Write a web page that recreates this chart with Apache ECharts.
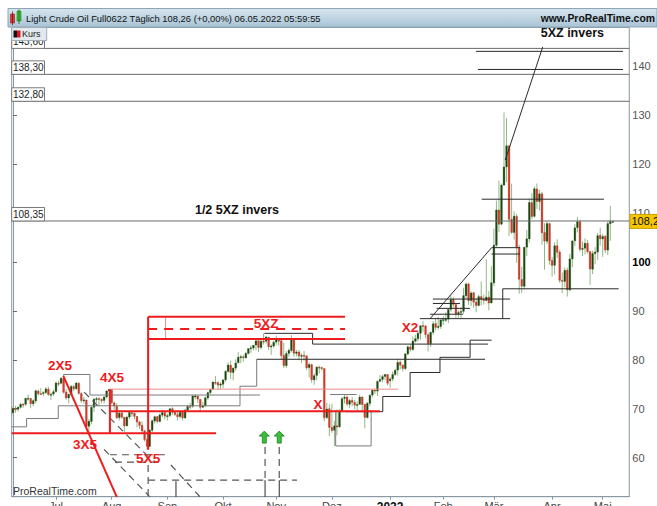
<!DOCTYPE html>
<html>
<head>
<meta charset="utf-8">
<script src="https://cdn.jsdelivr.net/npm/echarts@6.0.0/dist/echarts.min.js"></script>
<style>
html,body{margin:0;padding:0;background:#ffffff;overflow:hidden;}
#chart{width:657px;height:506px;}
</style>
</head>
<body>
<div id="chart"></div>
<script>
// ================= DATA =================
const startDate = '2021-06-08';
const slotCount = 244;                 // trading-day slots on the x axis (incl. empty ones at the right)
const closedDays = ['2022-04-15'];
const monthNames = {1:'2022',2:'Feb',3:'Mär',4:'Apr',5:'Mai',6:'Jun',7:'Jul',8:'Aug',9:'Sep',10:'Okt',11:'Nov',12:'Dez'};
const priceTicks = [60,70,80,90,100,110,120,130,140];
const boldTick = 100;
const yMin = 52.03, yMax = 147.87;

// daily candles [open, high, low, close]
const jun21 = [[69.2,70.5,68.6,70.05],[70.0,70.6,69.2,69.96],[69.9,70.5,69.4,70.29],[70.3,71.2,70.0,70.91],
[70.9,71.2,70.2,70.88],[70.9,72.2,70.6,72.12],[72.1,72.9,71.6,72.15],[72.1,72.2,70.1,71.04],[71.0,71.9,70.5,71.64],
[71.6,73.9,71.1,73.66],[73.6,73.9,72.7,73.06],[73.1,74.2,72.9,73.08],[73.1,73.6,72.6,73.30],[73.3,74.4,73.0,74.05],
[74.0,74.5,72.6,72.91],[72.9,73.3,71.8,72.98],[73.0,73.9,72.6,73.47]];
const jul21 = [[73.5,75.6,73.3,75.23],[75.2,75.7,74.6,75.16],[75.2,76.5,75.0,76.2],[76.2,77.0,73.1,73.37],[73.4,74.0,71.8,72.20],
[72.2,73.1,71.1,72.94],[72.9,74.8,72.6,74.56],[74.5,74.9,73.6,74.10],[74.1,75.5,73.8,75.25],[75.2,75.5,72.9,73.13],
[73.1,73.4,71.2,71.65],[71.6,72.4,71.0,71.81],[71.8,71.8,65.9,66.42],[66.4,67.9,65.0,67.42],[67.4,70.5,66.8,70.30],
[70.3,72.2,69.3,71.91],[71.9,72.4,71.2,72.07],[72.1,72.3,70.5,71.91],[71.9,72.1,71.1,71.65],[71.7,72.5,71.1,72.39],
[72.4,73.8,72.1,73.62],[73.6,74.0,72.9,73.95]];
const aug21 = [[73.9,74.0,70.9,71.26],[71.2,71.5,69.8,70.56],[70.5,71.1,67.9,68.15],[68.2,69.4,67.6,69.09],[69.1,69.5,67.9,68.28],
[68.3,68.3,65.2,66.48],[66.5,68.6,66.4,68.29],[68.3,69.6,67.9,69.25],[69.2,69.5,68.4,69.09],[69.1,69.2,67.8,68.44],
[68.4,68.5,66.2,67.29],[67.3,67.5,65.9,66.59],[66.6,67.4,65.0,65.46],[65.5,65.6,63.3,63.69],[63.7,64.0,61.7,62.32],
[62.3,65.8,62.2,65.64],[65.6,67.8,65.2,67.54],[67.5,68.6,67.0,68.36],[68.4,68.5,67.0,67.42],[67.4,69.0,67.2,68.74],
[68.7,69.8,68.3,69.21],[69.2,69.4,67.8,68.50]];
const sep21 = [[68.5,69.0,67.6,68.59],[68.6,70.1,68.3,69.99],[70.0,70.3,68.8,69.29],[69.3,69.5,68.5,68.8],[68.8,69.5,67.6,68.35],
[68.4,69.6,68.0,69.30],[69.3,69.6,67.6,68.14],[68.1,70.0,68.0,69.72],[69.7,70.8,69.6,70.45],[70.5,71.2,69.9,70.46],
[70.5,72.8,70.2,72.61],[72.6,73.0,71.9,72.61],[72.6,72.7,71.2,71.97],[71.9,72.0,69.6,70.29],[70.3,71.4,70.2,70.56],
[70.6,72.5,70.4,72.23],[72.2,73.5,71.8,73.30],[73.3,74.0,72.9,73.98],[74.0,75.6,73.9,75.45],[75.4,76.7,74.9,75.29],
[75.3,75.6,73.9,74.83],[74.8,75.4,73.9,75.03]];
const oct21 = [[75.0,76.1,74.2,75.88],[75.9,77.9,75.4,77.62],[77.6,79.5,77.4,78.93],[78.9,79.8,76.1,77.43],[77.4,78.4,75.8,78.30],
[78.3,80.1,77.8,79.35],[79.4,81.6,79.3,80.52],[80.5,81.0,79.3,80.64],[80.6,81.0,79.6,80.44],[80.4,81.6,80.2,81.31],
[81.3,82.3,81.1,82.28],[82.3,83.0,81.4,82.44],[82.4,83.0,81.9,82.96],[83.0,83.9,81.9,83.87],[83.9,84.0,81.6,82.50],
[82.5,84.2,82.1,83.76],[83.8,85.4,83.1,83.76],[83.8,84.9,83.3,84.65],[84.6,84.7,82.0,82.66],[82.7,83.2,81.0,82.81],
[82.8,83.9,82.4,83.57]];
const nov21 = [[83.6,84.9,83.0,84.05],[84.0,84.5,82.9,83.91],[83.9,84.0,80.0,80.86],[80.9,83.5,78.3,78.81],[78.8,81.8,78.3,81.27],
[81.3,82.3,80.6,81.93],[81.9,85.0,81.5,84.15],[84.2,84.3,80.6,81.34],[81.3,82.0,80.7,81.59],[81.6,82.0,79.9,80.79],
[80.8,81.3,79.3,80.88],[80.9,81.8,79.8,80.76],[80.8,80.9,77.9,78.36],[78.4,79.5,76.4,79.01],[79.0,79.2,75.3,75.94],
[75.9,77.2,74.9,76.75],[76.8,78.7,75.8,78.50],[78.5,78.8,77.2,78.39],[78.4,78.6,77.8,78.2],[78.2,78.3,67.4,68.15],
[68.2,71.2,67.9,69.95],[70.0,70.9,64.4,66.18]];
const dec21 = [[66.2,71.0,65.1,65.57],[65.6,67.5,62.4,66.50],[66.5,69.9,64.6,66.26],[66.3,69.9,66.1,69.49],[69.5,72.4,69.2,72.05],
[72.1,72.9,71.1,72.36],[72.4,72.7,70.5,70.94],[70.9,72.0,70.1,71.67],[71.7,72.4,70.5,71.29],[71.3,71.8,69.9,70.73],
[70.7,71.5,69.3,70.87],[70.9,72.9,70.8,72.38],[72.4,72.5,69.4,70.86],[70.9,70.9,66.0,68.23],[68.2,71.4,68.0,71.12],
[71.1,72.9,70.5,72.76],[72.8,73.9,72.3,73.79],[73.8,73.9,73.0,73.6],[73.6,75.8,72.6,75.57],[75.6,76.9,75.4,75.98],
[76.0,77.0,75.4,76.56],[76.6,77.1,75.8,76.99],[77.0,77.0,74.8,75.21]];
const jan22 = [[75.7,76.5,74.3,76.08],[76.1,77.6,75.6,76.99],[77.0,78.1,76.7,77.85],[77.9,80.2,76.8,79.46],[79.5,79.9,78.0,78.90],
[78.9,79.0,77.6,78.23],[78.2,81.3,77.9,81.22],[81.2,82.9,80.9,82.64],[82.6,83.1,81.7,82.12],[82.1,84.8,81.8,83.82],
[83.8,85.1,83.5,84.3],[84.3,86.0,83.7,85.43],[85.4,87.0,84.1,86.96],[87.0,87.9,85.7,86.90],[86.9,87.1,84.4,85.14],
[85.1,85.5,81.7,83.31],[83.3,85.7,82.6,85.60],[85.6,87.9,85.1,87.35],[87.4,88.5,86.0,86.61],[86.6,88.8,86.2,86.82],
[86.8,88.2,86.3,88.15]];
const feb22 = [[88.2,88.9,87.1,88.20],[88.2,89.7,87.7,88.26],[88.3,90.4,87.5,90.27],[90.3,93.2,89.8,92.31],[92.3,92.7,90.7,91.32],
[91.3,91.4,88.5,89.36],[89.4,90.1,88.6,89.66],[89.7,90.7,88.4,89.88],[89.9,94.7,89.4,93.10],[93.1,95.8,92.4,95.46],
[95.5,95.7,91.2,92.07],[92.1,94.0,91.0,93.66],[93.7,93.8,90.6,91.76],[91.8,92.6,89.7,91.07],[91.1,93.3,90.9,92.9],
[92.9,96.0,91.1,92.35],[92.4,93.3,91.3,92.10],[92.1,100.5,92.0,92.81],[92.8,94.0,90.1,91.59],[91.6,99.1,91.5,95.72]];
const mar22 = [[95.7,106.8,95.1,103.41],[103.4,112.5,103.0,110.60],[110.6,116.6,106.1,107.67],[107.7,116.0,107.5,115.68],
[115.7,130.5,115.5,119.40],[119.4,129.4,116.3,123.70],[123.7,123.7,105.3,108.70],[108.7,116.0,105.7,106.02],[106.0,110.3,104.5,109.33],
[109.3,109.8,99.8,103.01],[103.0,103.5,93.5,96.44],[96.4,99.0,93.6,95.04],[95.0,103.1,94.4,102.98],[103.0,106.5,101.2,104.70],
[104.7,112.9,103.9,112.12],[112.1,114.0,108.7,109.27],[109.3,115.4,109.0,114.93],[114.9,116.0,110.8,112.34],[112.3,114.7,110.5,113.90],
[113.9,114.3,103.5,105.96],[106.0,107.9,98.4,104.24],[104.2,108.3,103.6,107.82],[107.8,108.0,99.4,100.28]];
const apr22 = [[100.3,101.0,97.0,99.27],[99.3,104.0,97.4,103.28],[103.3,104.6,100.8,101.96],[102.0,102.5,95.7,96.23],[96.2,97.8,93.6,96.03],
[96.0,98.9,94.8,98.26],[98.3,98.8,92.9,94.29],[94.3,101.6,94.0,100.60],[100.6,104.5,98.9,104.25],[104.3,107.7,103.3,106.95],
[107.0,109.2,106.0,108.21],[108.2,108.6,102.1,102.56],[102.6,104.2,101.2,102.75],[102.8,104.8,101.5,103.79],[103.8,104.5,101.7,102.07],
[102.1,102.1,95.3,98.54],[98.5,102.3,97.5,101.70],[101.7,103.0,99.5,102.02],[102.0,105.9,100.4,105.36],[105.4,107.0,103.3,104.69]];
const may22 = [[104.7,105.7,101.0,105.17],[105.2,105.5,101.8,102.41],[102.4,108.3,101.4,107.81],[107.8,111.4,104.3,108.26],[108.26,108.4,108.1,108.26]];

const lastPrice = 108.26, lastPriceText = '108,2';
const levelPrices = [143.60, 138.30, 132.80, 108.35];
const levelTexts = ['143,60', '138,30', '132,80', '108,35'];

// drawn trend objects, points = [day slot, price]
const darkLines = [
  [[182.9,143.0],[241.0,143.0]],
  [[183.7,139.3],[241.0,139.3]],
  [[194.5,120.8],[209.3,143.9]],
  [[185.2,112.8],[233.5,112.8]],
  [[193.5,88.4],[193.5,94.5],[239.3,94.5]],
  [[164.8,88.4],[189.1,102.9],[200.3,102.9]],
  [[189.1,101.6],[200.3,101.6]],
  [[165.9,92.4],[196.4,92.4]],
  [[165.9,91.5],[176.6,91.5]],
  [[167.4,90.5],[180.6,90.5]],
  [[164.8,89.3],[177.8,89.3]],
  [[160.8,88.4],[196.4,88.4]],
  [[131.2,69.4],[146.1,69.4],[146.1,72.5],[156.9,72.5],[156.9,77.4],[168.7,77.4],[168.7,80.5],[180.6,80.5],[180.6,84.0],[189.1,84.0]],
  [[99.3,85.4],[118.4,85.4],[118.4,83.2],[187.7,83.2]],
  [[96.3,80.1],[186.5,80.1]],
  [[64.4,55.2],[64.4,52.0]],
  [[99.6,55.4],[99.6,52.0]],
  [[105.2,55.4],[105.2,52.0]]
];
const grayLines = [
  [[-0.5,66.3],[5.4,66.3],[5.4,68.0],[17.9,68.0],[17.9,70.6],[89.7,70.6],[89.7,74.6],[96.3,74.6],[96.3,80.1]],
  [[19.9,77.0],[30.4,77.0],[30.4,72.8],[97.6,72.8]],
  [[127.5,69.7],[127.5,62.4],[141.5,62.4],[141.5,69.7]],
  [[125.3,72.9],[135.8,72.9]]
];
const redLines = [
  [[19.9,76.7],[41.0,52.0]],
  [[-0.5,65.0],[80.2,65.0]],
  [[38.3,65.0],[38.3,74.0]],
  [[38.3,69.5],[145.0,69.5]],
  [[53.4,61.6],[53.4,88.8]],
  [[53.4,88.8],[131.2,88.8]],
  [[53.4,84.25],[131.2,84.25]]
];
const redDashedLines = [[[53.4,86.3],[131.2,86.3]]];
const pinkLines = [[[38.3,74.0],[152.2,74.0]],[[60.3,88.8],[60.3,84.25]]];
const grayDashedLines = [
  [[38.3,60.6],[62.0,60.6]],
  [[40.3,59.1],[59.3,59.1]],
  [[53.4,58.5],[53.4,52.0]],
  [[53.4,55.4],[112.2,55.4]],
  [[99.6,62.2],[99.6,55.4]],
  [[105.2,62.2],[105.2,55.4]],
  [[28.1,73.4],[54.1,59.9]],
  [[36.0,61.7],[54.1,52.0]],
  [[62.4,58.5],[73.9,52.0]]
];
const redTexts = [
  {t:'2X5', at:[18.6,78.9]}, {t:'3X5', at:[28.5,62.6]}, {t:'4X5', at:[39.1,76.3]},
  {t:'5X5', at:[53.4,59.9]}, {t:'5XZ', at:[100.0,87.5]}, {t:'X', at:[120.5,70.8]}, {t:'X2', at:[156.9,86.5]}
];
const blackTexts = [{t:'1/2 5XZ invers', at:[88.5,110.6]}, {t:'5XZ invers', at:[221.0,146.7]}];
const upArrows = [[99.3,64.2],[105.2,64.2]];

const titleText = 'Light Crude Oil Full0622 Täglich 108,26 (+0,00%) 06.05.2022 05:59:55';
const siteText = 'www.ProRealTime.com';
const footText = 'ProRealTime.com';
const legendText = 'Kurs';

// ================= BUILD =================
const categories = [];
(function(){
  const d = new Date(startDate + 'T00:00:00Z');
  while (categories.length < slotCount) {
    const wd = d.getUTCDay();
    const s = d.toISOString().slice(0,10);
    if (wd !== 0 && wd !== 6 && closedDays.indexOf(s) < 0) categories.push(s);
    d.setUTCDate(d.getUTCDate()+1);
  }
})();
const ohlc = [].concat(jun21, jul21, aug21, sep21, oct21, nov21, dec21, jan22, feb22, mar22, apr22, may22);
const candleData = ohlc.map((r,i)=>[categories[i], r[0], r[1], r[2], r[3]]);

function isMonthStart(idx){
  if (idx === 0) return false;
  return categories[idx].slice(0,7) !== categories[idx-1].slice(0,7);
}

const FONT = '"Liberation Sans", Arial, sans-serif';
const AX = '#8a98a4';

function linesSeries(list, color, width, type){
  return {
    type:'lines', coordinateSystem:'cartesian2d', xAxisIndex:1, yAxisIndex:0,
    polyline:true, silent:true, animation:false, z:5,
    lineStyle:{color:color, width:width, type:type||'solid', opacity:1},
    data: list.map(p=>({coords:p}))
  };
}
const levelSeg = levelPrices.map(p=>[[-0.5,p],[slotCount-0.5,p]]);

const chart = echarts.init(document.getElementById('chart'), null, {renderer:'svg'});
const option = {
  animation:false,
  backgroundColor:'#ffffff',
  grid:{left:11.7, top:27.5, width:617.6, height:469.2, show:true, borderColor:AX, borderWidth:1, containLabel:false, outerBoundsMode:'none'},
  xAxis:[{
    type:'category', data:categories, boundaryGap:true,
    axisLine:{show:true, lineStyle:{color:AX}},
    axisTick:{show:true, alignWithLabel:true, interval:(i)=>isMonthStart(i), length:3, lineStyle:{color:AX}},
    axisLabel:{show:true, interval:(i)=>isMonthStart(i), margin:4, fontSize:11, fontFamily:FONT, color:'#444',
      formatter:(v)=>{const m=parseInt(v.slice(5,7),10); return m===1?'{b|'+monthNames[m]+'}':monthNames[m];},
      rich:{b:{fontWeight:'bold', color:'#111', fontSize:12, fontFamily:FONT}}},
    splitLine:{show:false}
  },{
    type:'value', min:-0.5, max:slotCount-0.5, show:false, splitLine:{show:false}
  }],
  yAxis:[{
    type:'value', position:'right', min:yMin, max:yMax, scale:true,
    axisLine:{show:true, lineStyle:{color:AX}},
    axisTick:{show:true, length:4, customValues:priceTicks, lineStyle:{color:'#666'}},
    axisLabel:{show:true, customValues:priceTicks, margin:3, fontSize:11, fontFamily:FONT, color:'#555',
      formatter:(v)=> v===boldTick ? '{b|'+v+'}' : String(v),
      rich:{b:{fontWeight:'bold', color:'#000', fontSize:11, fontFamily:FONT}}},
    splitLine:{show:false}
  }],
  series:[
    {
      type:'custom', xAxisIndex:0, yAxisIndex:0, z:3, silent:true,
      dimensions:['date','open','high','low','close'],
      encode:{x:0, y:[1,2,3,4]},
      data:candleData,
      renderItem:function(params, api){
        const i = api.value(0), o = api.value(1), h = api.value(2), l = api.value(3), c = api.value(4);
        const pH = api.coord([i,h]), pL = api.coord([i,l]), pO = api.coord([i,o]), pC = api.coord([i,c]);
        const w = api.size([1,0])[0]*0.7;
        const up = c >= o;
        const top = Math.min(pO[1],pC[1]), bot = Math.max(pO[1],pC[1]);
        return {type:'group', children:[
          {type:'line', shape:{x1:pH[0],y1:pH[1],x2:pL[0],y2:pL[1]}, style:{stroke:'#93b784', lineWidth:1}},
          {type:'rect', shape:{x:pO[0]-w/2, y:top, width:w, height:Math.max(bot-top,1)},
           style:{fill: up ? '#1c4a10' : '#e0362a', stroke: up ? '#1c4a10' : '#8a3a20', lineWidth:0.3}}
        ]};
      }
    },
    linesSeries(levelSeg, '#6a6a6a', 1),
    linesSeries(grayLines, '#7a7a7a', 1),
    linesSeries(darkLines, '#2a2a2a', 1),
    linesSeries(grayDashedLines, '#555555', 1.2, [7,5]),
    linesSeries(pinkLines, '#f08a8a', 1),
    linesSeries(redLines, '#ee1c1c', 2),
    linesSeries(redDashedLines, '#ee1c1c', 2, [9,7])
  ]
};
chart.setOption(option);

// ---------- overlay texts / boxes placed through the axes ----------
function px(pt){ return chart.convertToPixel({xAxisIndex:1, yAxisIndex:0}, pt); }
const g = [];
// header bar
g.push({type:'rect', shape:{x:8, y:8.5, width:649, height:18.5},
  style:{fill:new echarts.graphic.LinearGradient(0,0,0,1,[{offset:0,color:'#d6e5ef'},{offset:1,color:'#a9c4d6'}]), stroke:'#8ea7b8', lineWidth:1}, z:20});
g.push({type:'rect', shape:{x:10.5, y:14, width:4, height:9}, style:{fill:'#e0362a', stroke:'#7a1a10', lineWidth:0.5}, z:21});
g.push({type:'line', shape:{x1:12.5,y1:11.5,x2:12.5,y2:25}, style:{stroke:'#7a1a10', lineWidth:0.8}, z:21});
g.push({type:'rect', shape:{x:17, y:11, width:4, height:10}, style:{fill:'#34c534', stroke:'#1a6a1a', lineWidth:0.5}, z:21});
g.push({type:'line', shape:{x1:19,y1:9.5,x2:19,y2:24}, style:{stroke:'#1a6a1a', lineWidth:0.8}, z:21});
g.push({type:'text', x:26, y:18, style:{text:titleText, font:'9.4px '+FONT, fill:'#111', textVerticalAlign:'middle'}, z:21});
g.push({type:'text', x:655, y:18, style:{text:siteText, font:'bold 10.4px '+FONT, fill:'#111', textAlign:'right', textVerticalAlign:'middle'}, z:21});

// level boxes on the left
levelPrices.forEach((p,k)=>{
  const y = px([0,p])[1];
  g.push({type:'rect', shape:{x:11.7, y:y-13.5, width:32.8, height:13.5}, style:{fill:'#ffffff', stroke:'#7a7a7a', lineWidth:1}, z:22});
  g.push({type:'text', x:13, y:y-6.5, style:{text:levelTexts[k], font:'10px '+FONT, fill:'#222', textVerticalAlign:'middle'}, z:23});
});
// legend box
g.push({type:'rect', shape:{x:11.7, y:27.5, width:35, height:13}, style:{fill:'#e3e9ee', stroke:'#a4aeb7', lineWidth:1}, z:24});
g.push({type:'rect', shape:{x:13.5, y:30.5, width:3.5, height:7}, style:{fill:'#111'}, z:25});
g.push({type:'rect', shape:{x:17, y:30.5, width:3.5, height:7}, style:{fill:'#e0141b'}, z:25});
g.push({type:'text', x:22, y:34.2, style:{text:legendText, font:'9px '+FONT, fill:'#222', textVerticalAlign:'middle'}, z:25});

// red labels
redTexts.forEach(r=>{
  const p = px(r.at);
  g.push({type:'text', x:p[0], y:p[1], style:{text:r.t, font:'bold 13.5px '+FONT, fill:'#ee1c1c', textAlign:'center', textVerticalAlign:'middle'}, z:26});
});
blackTexts.forEach(r=>{
  const p = px(r.at);
  g.push({type:'text', x:p[0], y:p[1], style:{text:r.t, font:'bold 12.5px '+FONT, fill:'#111', textAlign:'center', textVerticalAlign:'middle'}, z:26});
});
// green up arrows
upArrows.forEach(a=>{
  const p = px(a);
  const x = p[0], y = p[1];
  g.push({type:'polygon', shape:{points:[[x,y-6],[x+5,y-1],[x+2,y-1],[x+2,y+6],[x-2,y+6],[x-2,y-1],[x-5,y-1]]},
    style:{fill:'#3cbf3c', stroke:'#1d7a1d', lineWidth:0.8}, z:26});
});
// last price tag
(function(){
  const y = px([0,lastPrice])[1];
  g.push({type:'rect', shape:{x:630, y:y-7, width:27, height:14}, style:{fill:'#f6c700', stroke:'#c9a100', lineWidth:1}, z:26});
  g.push({type:'text', x:631.5, y:y, style:{text:lastPriceText, font:'11px '+FONT, fill:'#111', textVerticalAlign:'middle'}, z:27});
})();
// footer mark
g.push({type:'text', x:13, y:491, style:{text:footText, font:'10.5px '+FONT, fill:'#333', textVerticalAlign:'middle'}, z:26});

chart.setOption({graphic:{elements:g}});
</script>
</body>
</html>
